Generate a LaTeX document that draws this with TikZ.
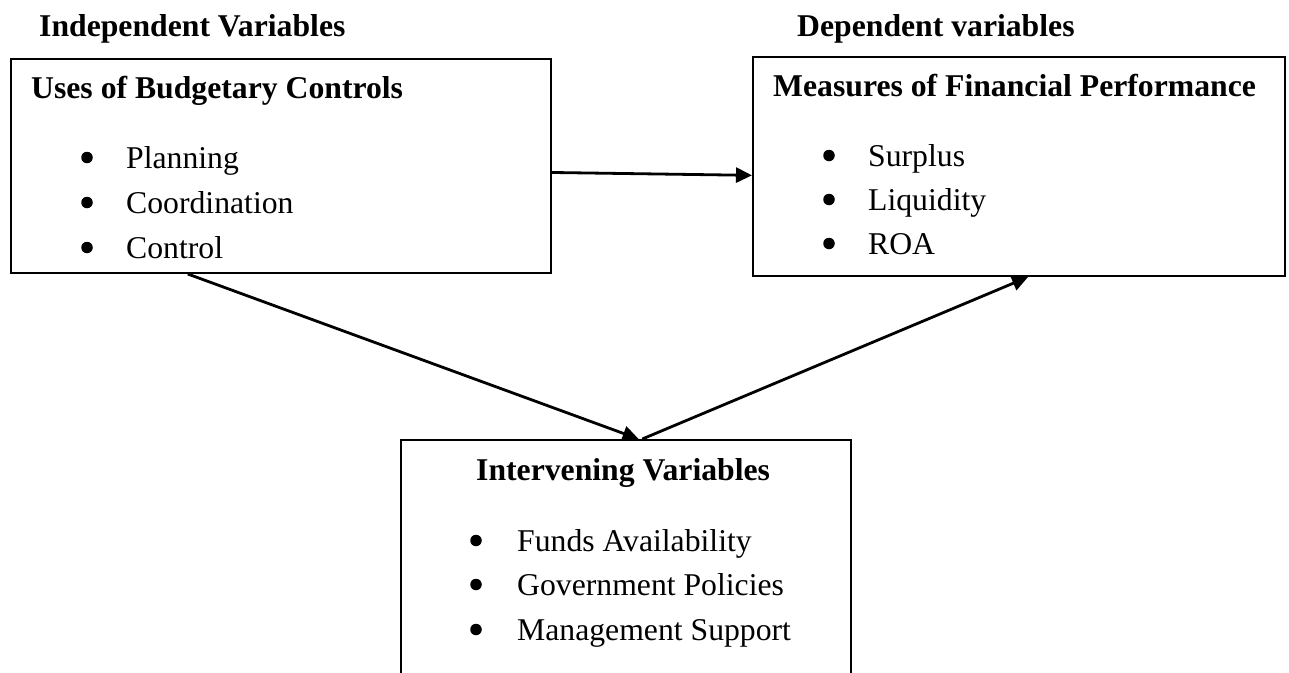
\documentclass[tikz,border=0pt]{standalone}
\usepackage{fontspec}
\setmainfont{Liberation Serif}
\usetikzlibrary{arrows.meta,calc}
\tikzset{
  box/.style={draw, line width=2pt, inner sep=0pt, anchor=north west},
  txt/.style={anchor=base west, inner sep=0pt, font=\fontsize{31.7pt}{38pt}\selectfont},
  hd/.style={anchor=base west, inner sep=0pt, font=\fontsize{31.7pt}{38pt}\selectfont\bfseries},
  bul/.style={circle, fill=black, inner sep=0pt, minimum size=11.5pt, yshift=10.5pt},
  arr/.style={line width=2.8pt, -{Triangle[length=16pt,width=15pt]}},
}
\begin{document}
\begin{tikzpicture}[x=1pt,y=-1pt]
\useasboundingbox (0,0) rectangle (1289,672);
\clip (0,0) rectangle (1289,672);
% headings
\node[hd] (ivlab) at (39,36) {Independent Variables};
\node[hd] (dvlab) at (797,36) {Dependent variables};
% boxes
\node[box, minimum width=540pt, minimum height=214pt] (A) at (10,58) {};
\node[box, minimum width=532pt, minimum height=219pt] (B) at (752,56) {};
\node[box, minimum width=450pt, minimum height=260pt] (C) at (400,439) {};
% box A text
\node[hd] (Atitle) at (31,98) {Uses of Budgetary Controls};
\node[bul] (Ab1) at (87,168) {};
\node[txt] (At1) at (126,168) {Planning};
\node[bul] (Ab2) at (87,213) {};
\node[txt] (At2) at (126,213) {Coordination};
\node[bul] (Ab3) at (87,258) {};
\node[txt] (At3) at (126,258) {Control};
% box B text
\node[hd] (Btitle) at (773,96) {Measures of Financial Performance};
\node[bul] (Bb1) at (829,166) {};
\node[txt] (Bt1) at (868,166) {Surplus};
\node[bul] (Bb2) at (829,210) {};
\node[txt] (Bt2) at (868,210) {Liquidity};
\node[bul] (Bb3) at (829,254) {};
\node[txt] (Bt3) at (868,254) {ROA};
% box C text
\node[hd] (Ctitle) at (476,480) {Intervening Variables};
\node[bul] (Cb1) at (476,551) {};
\node[txt] (Ct1) at (517,551) {Funds Availability};
\node[bul] (Cb2) at (476,595) {};
\node[txt] (Ct2) at (517,595) {Government Policies};
\node[bul] (Cb3) at (476,640) {};
\node[txt] (Ct3) at (517,640) {Management Support};
% connectors
\draw[arr] ($(A.north east)!0.53!(A.south east)$) -- ($(B.north west)!0.54!(B.south west)$);
\draw[arr] ($(A.south west)!0.328!(A.south east)$) -- ($(C.north west)!0.528!(C.north east)$);
\draw[arr] ($(C.north west)!0.536!(C.north east)$) -- ($(B.south west)!0.517!(B.south east)$);
\end{tikzpicture}
\end{document}
